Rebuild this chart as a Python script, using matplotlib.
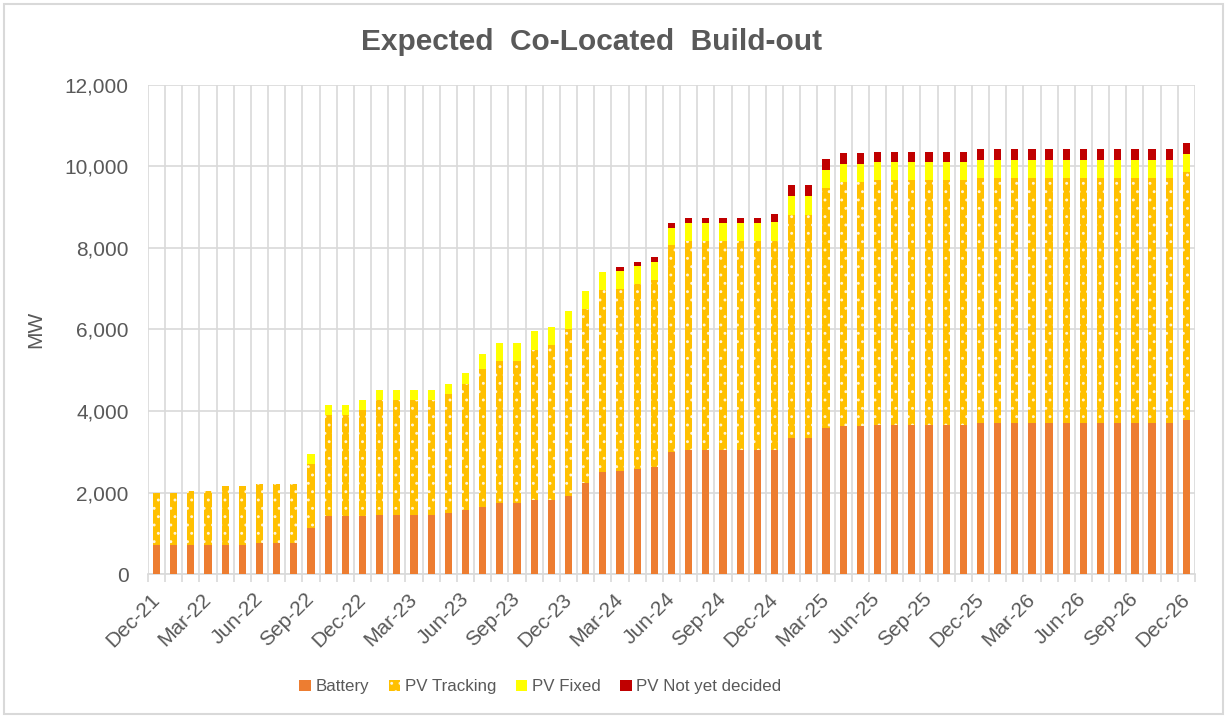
import numpy as np
import pandas as pd
import matplotlib
matplotlib.use("Agg")
import matplotlib.pyplot as plt
from matplotlib.patches import Rectangle, Patch
from matplotlib.ticker import FuncFormatter, FixedLocator

plt.rcParams["font.family"] = ["Liberation Sans", "DejaVu Sans"]
plt.rcParams["hatch.linewidth"] = 0.9

# monthly categories Dec-21 .. Dec-26
months = pd.date_range("2021-12-01", periods=61, freq="MS").strftime("%b-%y").tolist()

# MW per segment
battery = [720, 720, 720, 720, 720, 720, 770, 770, 770, 1140,
           1430, 1430, 1430, 1450, 1450, 1450, 1450, 1505, 1565, 1635,
           1735, 1735, 1810, 1810, 1915, 2235, 2505, 2535, 2575, 2625,
           3000, 3045, 3045, 3045, 3045, 3045, 3045, 3345, 3345, 3590,
           3640, 3640, 3665, 3665, 3665, 3665, 3665, 3665, 3710, 3710,
           3710, 3710, 3710, 3710, 3710, 3710, 3710, 3710, 3710, 3710,
           3780]
pv_tracking = [1280, 1280, 1310, 1310, 1430, 1430, 1430, 1430, 1430, 1560,
               2480, 2480, 2595, 2820, 2820, 2820, 2820, 2910, 3105, 3385,
               3485, 3485, 3690, 3800, 4095, 4270, 4465, 4460, 4550, 4590,
               5065, 5120, 5120, 5120, 5120, 5120, 5135, 5470, 5470, 5880,
               5980, 5980, 6005, 6005, 6005, 6005, 6005, 6005, 6010, 6010,
               6010, 6010, 6010, 6010, 6010, 6010, 6010, 6010, 6010, 6010,
               6085]
pv_fixed = [0, 0, 0, 0, 0, 0, 0, 0, 0, 245,
            240, 240, 245, 245, 245, 245, 245, 255, 255, 370,
            440, 440, 465, 450, 440, 440, 450, 450, 440, 450,
            435, 440, 440, 440, 440, 440, 450, 450, 450, 435,
            440, 440, 440, 440, 440, 440, 440, 440, 440, 440,
            440, 440, 440, 440, 440, 440, 440, 440, 440, 440,
            440]
pv_undecided = [0, 0, 0, 0, 0, 0, 0, 0, 0, 0,
                0, 0, 0, 0, 0, 0, 0, 0, 0, 0,
                0, 0, 0, 0, 0, 0, 0, 100, 100, 120,
                120, 125, 125, 125, 125, 125, 195, 270, 270, 280,
                270, 270, 245, 245, 245, 245, 245, 245, 270, 270,
                270, 270, 270, 270, 270, 270, 270, 270, 270, 270,
                270]

TEXT = "#595959"
GRID = "#D9D9D9"
C_BAT = "#ED7D31"
C_TRK = "#FFC000"
C_FIX = "#FFFF00"
C_UND = "#C00000"

fig = plt.figure(figsize=(12.25, 7.17), dpi=100)
ax = fig.add_axes([0.1208, 0.1994, 0.8547, 0.6821])

x = np.arange(len(months))
w = 0.42
b1 = np.array(battery)
b2 = b1 + np.array(pv_tracking)
b3 = b2 + np.array(pv_fixed)

ax.bar(x, battery, w, color=C_BAT, linewidth=0, zorder=3)
ax.bar(x, pv_tracking, w, bottom=b1, color=C_TRK, edgecolor="#FFF6DC",
       linewidth=0, hatch="..", zorder=3)
ax.bar(x, pv_fixed, w, bottom=b2, color=C_FIX, linewidth=0, zorder=3)
ax.bar(x, pv_undecided, w, bottom=b3, color=C_UND, linewidth=0, zorder=3)

ax.set_xlim(-0.5, len(months) - 0.5)
ax.set_ylim(0, 12000)
ax.set_yticks(range(0, 12001, 2000))
ax.yaxis.set_major_formatter(FuncFormatter(lambda v, p: f"{int(v):,}"))

# category boundaries -> vertical gridlines + tick marks
bounds = np.arange(-0.5, len(months), 1.0)
ax.xaxis.set_minor_locator(FixedLocator(bounds))
ax.set_xticks(x[::3])
ax.set_xticklabels(months[::3], rotation=45, ha="right", va="center",
                   rotation_mode="anchor")
ax.tick_params(axis="x", which="major", length=0, pad=16, labelsize=15,
               labelcolor=TEXT)
ax.tick_params(axis="x", which="minor", length=6, color=GRID, width=1.2)
ax.tick_params(axis="y", length=0, pad=14, labelsize=15, labelcolor=TEXT)

ax.grid(axis="y", color=GRID, linewidth=1.2, zorder=0)
ax.grid(axis="x", which="minor", color=GRID, linewidth=1.2, zorder=0)
ax.grid(axis="x", which="major", visible=False)
for s in ["top", "right", "left"]:
    ax.spines[s].set_visible(False)
ax.spines["bottom"].set_color(GRID)
ax.spines["bottom"].set_linewidth(1.2)

ax.set_ylabel("MW", fontsize=15, color=TEXT)
ax.yaxis.set_label_coords(-0.098, 0.5)

fig.text(0.483, 0.942, "Expected  Co-Located  Build-out", ha="center",
         va="center", fontsize=21.5, fontweight="bold", color=TEXT)

handles = [Patch(facecolor=C_BAT, linewidth=0),
           Patch(facecolor=C_TRK, edgecolor="#FFF6DC", linewidth=0, hatch=".."),
           Patch(facecolor=C_FIX, linewidth=0),
           Patch(facecolor=C_UND, linewidth=0)]
labels = ["Battery", "PV Tracking", "PV Fixed", "PV Not yet decided"]
leg = fig.legend(handles, labels, loc="center", bbox_to_anchor=(0.441, 0.042),
                 ncol=4, frameon=False, fontsize=12.2, handlelength=0.7,
                 handleheight=0.7, handletextpad=0.25, columnspacing=1.15)
for t in leg.get_texts():
    t.set_color(TEXT)

fig.patches.append(Rectangle((0.0035, 0.004), 0.995, 0.991, transform=fig.transFigure,
                             fill=False, edgecolor=GRID, linewidth=1.5))

fig.savefig("out.png", dpi=100)
